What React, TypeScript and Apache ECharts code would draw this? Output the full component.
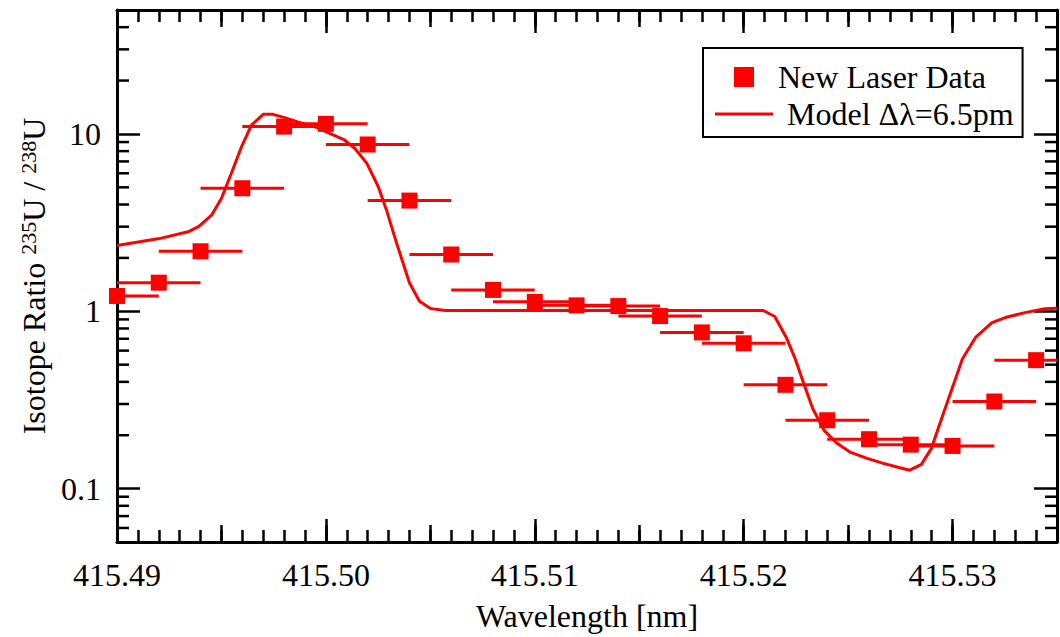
import React, { useEffect, useRef } from "react";
import * as echarts from "echarts";

const FONT = "Liberation Serif";

// Measured data (wavelength in nm, isotope ratio 235U/238U)
const wavelengths = [
  415.49, 415.492, 415.494, 415.496, 415.498, 415.5, 415.502, 415.504, 415.506, 415.508, 415.51, 415.512,
  415.514, 415.516, 415.518, 415.52, 415.522, 415.524, 415.526, 415.528, 415.53, 415.532, 415.534,
];
const ratios = [
  1.22, 1.45, 2.18, 4.94, 11.0, 11.4, 8.72, 4.21, 2.09, 1.32, 1.13, 1.08,
  1.07, 0.94, 0.76, 0.66, 0.385, 0.243, 0.19, 0.177, 0.174, 0.31, 0.53,
];
const xErrors = [
  0.002, 0.002, 0.002, 0.002, 0.002, 0.002, 0.002, 0.002, 0.002, 0.002, 0.002, 0.002,
  0.002, 0.002, 0.002, 0.002, 0.002, 0.002, 0.002, 0.002, 0.002, 0.002, 0.002,
];

// Model curve (Δλ = 6.5 pm)
const modelX = [
  415.49, 415.49203, 415.49345, 415.49392, 415.49454, 415.49501, 415.49548, 415.49596, 415.49643, 415.497,
  415.49747, 415.49802, 415.49865, 415.49959, 415.50021, 415.50086, 415.50139, 415.50196, 415.50251, 415.5029,
  415.50338, 415.504, 415.50448, 415.50503, 415.50574, 415.52094, 415.52149, 415.52204, 415.52244, 415.52291,
  415.52331, 415.52385, 415.52449, 415.52512, 415.52591, 415.52669, 415.52748, 415.52795, 415.52851, 415.52898,
  415.52953, 415.53, 415.53047, 415.5311, 415.53189, 415.53252, 415.53347, 415.53441, 415.535,
];
const modelY = [
  2.35, 2.57, 2.82, 3.01, 3.5, 4.36, 6.02, 8.46, 11.19, 12.9,
  12.9, 12.36, 11.68, 10.86, 10.05, 9.3, 8.28, 6.82, 5.04, 3.73,
  2.43, 1.45, 1.14, 1.035, 1.01, 1.01, 0.934, 0.712, 0.55, 0.381,
  0.282, 0.213, 0.1795, 0.16, 0.148, 0.1387, 0.131, 0.127, 0.137, 0.168,
  0.259, 0.373, 0.538, 0.712, 0.864, 0.922, 0.983, 1.035, 1.04,
];

// Axis settings
const X_MIN = 415.49;
const X_MAX = 415.535;
const Y_MIN = 0.05;
const Y_MAX = 50;
const yMinorTicks = [
  0.06, 0.07, 0.08, 0.09, 0.2, 0.3, 0.4, 0.5, 0.6, 0.7, 0.8, 0.9,
  2, 3, 4, 5, 6, 7, 8, 9, 20, 30, 40,
];

const RED = "#ff0000";

export default function App() {
  const ref = useRef<HTMLDivElement>(null);

  useEffect(() => {
    if (!ref.current) return;
    const chart = echarts.init(ref.current, null, { renderer: "svg" });

    const xBase = (position: string, interval: number, len: number, main: boolean) => ({
      type: "value",
      gridIndex: 0,
      position,
      min: X_MIN,
      max: X_MAX,
      interval,
      splitLine: { show: false },
      axisLine: { show: main, onZero: false, lineStyle: { color: "#000", width: 3 } },
      axisTick: { show: true, inside: true, length: len, lineStyle: { color: "#000", width: 2.5 } },
      axisLabel: { show: false },
    });

    const xMain: any = xBase("bottom", 0.01, 23, true);
    xMain.axisLabel = {
      show: true,
      margin: 17,
      fontSize: 32,
      fontFamily: FONT,
      color: "#000",
      formatter: (v: number) => {
        const k = (v - X_MIN) / 0.01;
        return Math.abs(k - Math.round(k)) < 1e-3 ? v.toFixed(2) : "";
      },
    };
    xMain.name = "Wavelength [nm]";
    xMain.nameLocation = "middle";
    xMain.nameGap = 58;
    xMain.nameTextStyle = { fontSize: 32, fontFamily: FONT, color: "#000" };

    const yBase = (position: string, main: boolean) => ({
      type: "log",
      logBase: 10,
      position,
      min: Y_MIN,
      max: Y_MAX,
      splitLine: { show: false },
      axisLine: { show: true, onZero: false, lineStyle: { color: "#000", width: 3 } },
      axisTick: { show: true, inside: true, length: 23, lineStyle: { color: "#000", width: 2.5 } },
      axisLabel: main
        ? {
            show: true,
            margin: 16,
            fontSize: 32,
            fontFamily: FONT,
            color: "#000",
            formatter: (v: number) => {
              const l = Math.log10(v);
              if (Math.abs(l - Math.round(l)) < 1e-6 && v > 0.06 && v < 40) return String(Number(v.toPrecision(3)));
              return "";
            },
          }
        : { show: false },
    });

    const yMain: any = yBase("left", true);
    yMain.name = "{m|Isotope Ratio }{s|235}{m|U / }{s|238}{m|U}";
    yMain.nameLocation = "middle";
    yMain.nameRotate = 90;
    yMain.nameGap = 62;
    yMain.nameTextStyle = {
      fontSize: 32,
      fontFamily: FONT,
      color: "#000",
      rich: {
        m: { fontSize: 32, fontFamily: FONT, color: "#000", lineHeight: 34 },
        s: { fontSize: 22, fontFamily: FONT, color: "#000", lineHeight: 22, verticalAlign: "top" },
      },
    };

    const option: any = {
      animation: false,
      backgroundColor: "#fff",
      textStyle: { fontFamily: FONT, color: "#000" },
      grid: { left: 117, top: 10, right: -8, bottom: 94, containLabel: false },
      legend: {
        orient: "vertical",
        left: 703,
        top: 48,
        padding: [13, 9, 7, 12],
        itemWidth: 58,
        itemHeight: 20,
        itemGap: 5,
        selectedMode: false,
        symbolKeepAspect: true,
        borderColor: "#000",
        borderWidth: 2,
        backgroundColor: "#fff",
        textStyle: {
          fontSize: 32,
          fontFamily: FONT,
          color: "#000",
          rich: {
            d: { fontSize: 32, fontFamily: FONT, color: "#000" },
            m: { fontSize: 32, fontFamily: FONT, color: "#000", padding: [0, 0, 0, 9] },
          },
        },
        formatter: (name: string) => (name.startsWith("Model") ? `{m|${name}}` : `{d|${name}}`),
        data: [
          { name: "New Laser Data", icon: "path://M0,0L10,0L10,10L0,10Z", itemStyle: { color: RED, opacity: 1 } },
          { name: "Model Δλ=6.5pm", icon: "path://M0,0L58,0L58,3L0,3Z", itemStyle: { color: RED, opacity: 1, borderWidth: 0 } },
        ],
      },
      xAxis: [
        xMain,
        xBase("bottom", 0.005, 17, false),
        xBase("bottom", 0.001, 12, false),
        xBase("top", 0.01, 23, true),
        xBase("top", 0.005, 17, false),
        xBase("top", 0.001, 12, false),
      ],
      yAxis: [yMain, yBase("right", false)],
      series: [
        {
          type: "custom",
          name: "errorBars",
          xAxisIndex: 0,
          yAxisIndex: 0,
          clip: true,
          silent: true,
          encode: { x: 0, y: 1 },
          data: wavelengths.map((w, i) => [w, ratios[i], xErrors[i]]),
          renderItem: (params: any, api: any) => {
            const x = api.value(0);
            const y = api.value(1);
            const e = api.value(2);
            const p1 = api.coord([x - e, y]);
            const p2 = api.coord([x + e, y]);
            return {
              type: "line",
              shape: { x1: p1[0], y1: p1[1], x2: p2[0], y2: p2[1] },
              style: { stroke: RED, lineWidth: 3 },
            };
          },
        },
        {
          type: "scatter",
          name: "New Laser Data",
          xAxisIndex: 0,
          yAxisIndex: 0,
          clip: false,
          symbol: "rect",
          symbolSize: 16,
          itemStyle: { color: RED, opacity: 1 },
          data: wavelengths.map((w, i) => [w, ratios[i]]),
        },
        {
          type: "line",
          name: "Model Δλ=6.5pm",
          xAxisIndex: 0,
          yAxisIndex: 0,
          symbol: "none",
          showSymbol: false,
          lineStyle: { color: RED, width: 3 },
          itemStyle: { color: RED },
          data: modelX.map((x, i) => [x, modelY[i]]),
        },
        {
          type: "custom",
          name: "yMinorTicks",
          xAxisIndex: 0,
          yAxisIndex: 0,
          silent: true,
          encode: { x: 0, y: 1 },
          data: yMinorTicks.map((v) => [X_MIN, v]),
          renderItem: (params: any, api: any) => {
            const cs = params.coordSys;
            const y = api.coord([X_MIN, api.value(1)])[1];
            const st = { stroke: "#000", lineWidth: 2.5 };
            return {
              type: "group",
              children: [
                { type: "line", shape: { x1: cs.x, y1: y, x2: cs.x + 12, y2: y }, style: st },
                { type: "line", shape: { x1: cs.x + cs.width - 12, y1: y, x2: cs.x + cs.width, y2: y }, style: st },
              ],
            };
          },
        },
      ],
    };

    chart.setOption(option);
    return () => chart.dispose();
  }, []);

  return (
    <div
      ref={ref}
      style={{ position: "fixed", left: 0, top: 0, width: 1060, height: 637, background: "#fff" }}
    />
  );
}
